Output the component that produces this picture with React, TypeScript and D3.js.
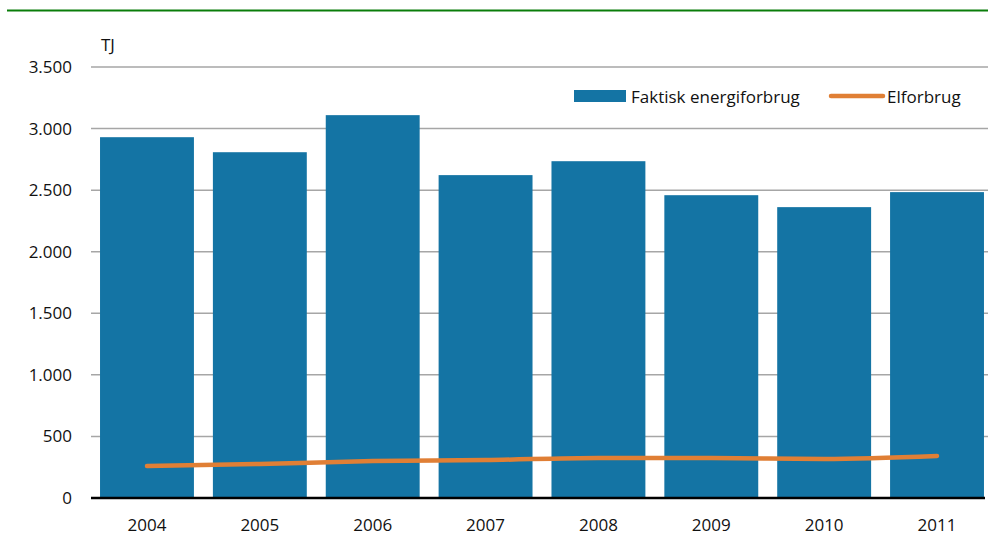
import React from "react";
import * as d3 from "d3";

const years = ["2004", "2005", "2006", "2007", "2008", "2009", "2010", "2011"];
const energi = [2930, 2808, 3109, 2622, 2735, 2459, 2362, 2484];
const elforbrug = [260, 276, 300, 308, 325, 325, 317, 341];
const yTicks = [0, 500, 1000, 1500, 2000, 2500, 3000, 3500];
const seriesNames = ["Faktisk energiforbrug", "Elforbrug"];
const unit = "TJ";

const W = 988, H = 537;
const BLUE = "#1474a4";
const ORANGE = "#e07f35";
const FONT = "'Open Sans', sans-serif";

export default function App() {
  const x = d3.scaleBand<string>().domain(years).range([91, 993]).paddingInner(0.168).paddingOuter(0.08);
  const y = d3.scaleLinear().domain([0, 3500]).range([498, 67]);
  const fmt = (v: number) => d3.format(",")(v).replace(/,/g, ".");
  const line = d3.line<number>()
    .x((_, i) => (x(years[i]) as number) + x.bandwidth() / 2)
    .y((d) => y(d))
    .curve(d3.curveMonotoneX);
  return (
    <svg width={W} height={H} style={{ position: "absolute", left: 0, top: 0, fontFamily: FONT }}>
      <line x1={7} x2={988} y1={10.5} y2={10.5} stroke="#0a7d0a" strokeWidth={2} />
      {yTicks.filter((t) => t > 0).map((t) => (
        <line key={t} x1={91} x2={988} y1={y(t)} y2={y(t)} stroke="#a6a6a6" strokeWidth={1.5} />
      ))}
      {yTicks.map((t) => (
        <text key={t} x={72} y={y(t)} dy="0.35em" textAnchor="end" fontSize={17} fill="#111">{fmt(t)}</text>
      ))}
      <text x={101} y={51} fontSize={17} fill="#111">{unit}</text>
      {years.map((yr, i) => (
        <rect key={yr} x={x(yr)} y={y(energi[i])} width={x.bandwidth()} height={y(0) - y(energi[i])} fill={BLUE} />
      ))}
      <line x1={91} x2={985} y1={y(0)} y2={y(0)} stroke="#000" strokeWidth={2.5} />
      {years.map((yr) => (
        <text key={yr} x={(x(yr) as number) + x.bandwidth() / 2} y={531} textAnchor="middle" fontSize={17} fill="#111">{yr}</text>
      ))}
      <path d={line(elforbrug) || ""} fill="none" stroke={ORANGE} strokeWidth={4.5} strokeLinecap="round" />
      <rect x={574} y={90} width={52} height={12} fill={BLUE} />
      <text x={631} y={103} fontSize={17} fill="#111">{seriesNames[0]}</text>
      <line x1={831} x2={883} y1={96} y2={96} stroke={ORANGE} strokeWidth={4.5} strokeLinecap="round" />
      <text x={887} y={103} fontSize={17} fill="#111">{seriesNames[1]}</text>
    </svg>
  );
}
